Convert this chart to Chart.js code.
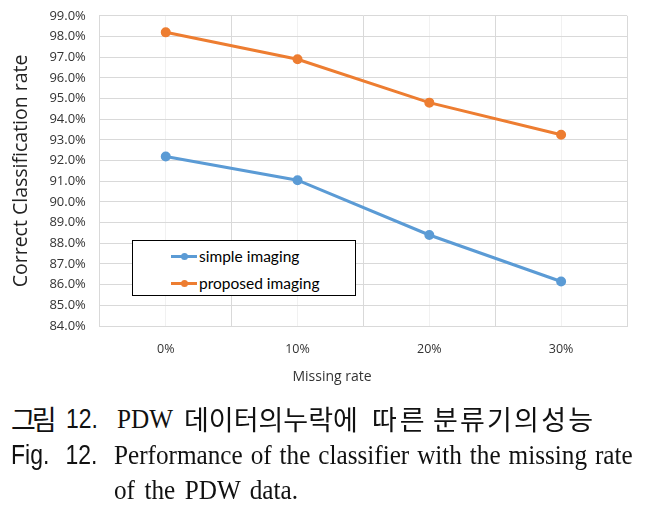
<!DOCTYPE html>
<html>
<head>
<meta charset="utf-8">
<script src="https://cdn.jsdelivr.net/npm/chart.js@4"></script>
<style>
  body { margin: 0; background: #fff; width: 651px; height: 514px; overflow: hidden; position: relative; }
  #wrap { position: absolute; left: 0; top: -6px; width: 651px; height: 393px; }
  #legend { position: absolute; left: 132px; top: 240px; width: 224px; height: 56px; border: 1px solid #000; background: #fff;
    font-family: Lato, "Liberation Sans", sans-serif; font-size: 15.5px; color: #000; box-sizing: border-box; }
  .item { position: absolute; left: 66px; height: 20px; line-height: 20px; }
  .mark { position: absolute; left: -28px; top: 9px; width: 26px; height: 3px; }
  .mark::after { content: ""; position: absolute; left: 10px; top: -2px; width: 7px; height: 7px; border-radius: 50%; background: inherit; }
  #xtitle { position: absolute; left: 232px; width: 200px; top: 366px; text-align: center; font-family: "Open Sans", sans-serif; font-size: 14px; color: #333; }
  .cap { position: absolute; left: 0; width: 651px; height: 36px; color: #111; }
  .cap span { position: absolute; top: 0; white-space: nowrap; line-height: 36px; transform-origin: left center; }
  .ko { font-family: "Noto Sans CJK KR", sans-serif; font-size: 27px; }
  .serif { font-family: "Liberation Serif", serif; font-size: 28px; transform: scaleX(0.9); }
  .sans { font-family: "Liberation Sans", sans-serif; font-size: 28px; transform: scaleX(0.82); }
  #c1 { top: 401px; }
  #c2 { top: 437px; }
  #c3 { top: 472px; }
</style>
</head>
<body>
<div id="wrap"><canvas id="myChart"></canvas></div>
<div id="legend"></div>
<div id="xtitle">Missing rate</div>
<div class="cap" id="c1">
  <span class="ko" style="left:11px; letter-spacing:-4px">그림</span>
  <span class="sans" style="left:66px">12.</span>
  <span class="serif" style="left:117px">PDW</span>
  <span class="ko" style="left:184px; letter-spacing:0px">데이터의누락에</span>
  <span class="ko" style="left:372px; letter-spacing:3px">따른</span>
  <span class="ko" style="left:433px; letter-spacing:2.2px">분류기의성능</span>
</div>
<div class="cap" id="c2">
  <span class="sans" style="left:11px; word-spacing:12px">Fig. 12.</span>
  <span class="serif" style="left:114px; word-spacing:1.8px">Performance of the classifier with the missing rate</span>
</div>
<div class="cap" id="c3">
  <span class="serif" style="left:114px; word-spacing:3.5px">of the PDW data.</span>
</div>
<script>
const missingRates = ['0%', '10%', '20%', '30%'];
const simpleImaging = [92.2, 91.05, 88.4, 86.15];
const proposedImaging = [98.2, 96.9, 94.8, 93.25];
const seriesNames = ['simple imaging', 'proposed imaging'];
const seriesColors = ['#5B9BD5', '#ED7D31'];

const tickFont = { family: '"Open Sans", "Noto Sans", sans-serif', size: 12.5 };

const ctx = document.getElementById('myChart').getContext('2d');
const myChart = new Chart(ctx, {
    type: 'line',
    data: {
        labels: missingRates,
        datasets: [
            {
                label: seriesNames[0],
                data: simpleImaging,
                borderColor: seriesColors[0],
                backgroundColor: seriesColors[0],
                borderWidth: 3,
                pointRadius: 3.5,
                tension: 0
            },
            {
                label: seriesNames[1],
                data: proposedImaging,
                borderColor: seriesColors[1],
                backgroundColor: seriesColors[1],
                borderWidth: 3,
                pointRadius: 3.5,
                tension: 0
            }
        ]
    },
    options: {
        responsive: true,
        maintainAspectRatio: false,
        animation: false,
        layout: { padding: { left: 6, right: 24, top: 0, bottom: 14 } },
        plugins: {
            legend: { display: false },
            tooltip: { enabled: false }
        },
        scales: {
            x: {
                offset: true,
                grid: { offset: true, color: '#d9d9d9', drawTicks: false },
                border: { color: '#d9d9d9' },
                ticks: { color: '#333', font: tickFont, padding: 16 }
            },
            x2: {
                type: 'category',
                position: 'top',
                offset: true,
                grid: { offset: false, color: '#f1f1f1', drawTicks: false },
                border: { display: false },
                ticks: { display: false }
            },
            y: {
                min: 84,
                max: 99,
                grid: { color: '#d9d9d9', drawTicks: false },
                border: { color: '#d9d9d9' },
                ticks: { stepSize: 1, color: '#333', font: { family: tickFont.family, size: 13 }, padding: 14, callback: v => v.toFixed(1) + '%' },
                title: { display: true, text: 'Correct Classification rate', color: '#222', font: { family: '"Open Sans", sans-serif', size: 19.5 }, padding: { bottom: 2 } }
            }
        }
    }
});

// legend inside the plot, built from the series arrays
const legend = document.getElementById('legend');
seriesNames.forEach((name, i) => {
    const item = document.createElement('div');
    item.className = 'item';
    item.style.top = (i === 0 ? 5 : 32) + 'px';
    item.innerHTML = '<span class="mark" style="background:' + seriesColors[i] + '"></span>' + name;
    legend.appendChild(item);
});
</script>
</body>
</html>
